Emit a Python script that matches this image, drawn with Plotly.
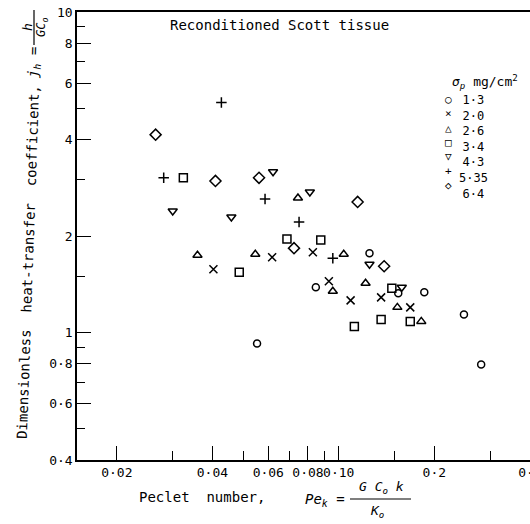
import plotly.graph_objects as go

# ---- data (Peclet number Pe_k, heat-transfer coefficient j_h) ----
series_labels = ["1·3", "2·0", "2·6", "3·4", "4·3", "5·35", "6·4"]

pe_13 = [0.0553, 0.0847, 0.125, 0.154, 0.186, 0.248, 0.281]
jh_13 = [0.924, 1.384, 1.769, 1.325, 1.335, 1.139, 0.794]

pe_20 = [0.0403, 0.0617, 0.0829, 0.0931, 0.109, 0.136, 0.168]
jh_20 = [1.576, 1.718, 1.781, 1.445, 1.260, 1.287, 1.198]

pe_26 = [0.0359, 0.0546, 0.0744, 0.1037, 0.0958, 0.1215, 0.153, 0.182]
jh_26 = [1.743, 1.756, 2.63, 1.756, 1.345, 1.424, 1.198, 1.083]

pe_34 = [0.0324, 0.0486, 0.0687, 0.0878, 0.112, 0.136, 0.147, 0.168]
jh_34 = [3.04, 1.542, 1.957, 1.943, 1.044, 1.098, 1.374, 1.083]

pe_43 = [0.0300, 0.0459, 0.0621, 0.0811, 0.125, 0.158]
jh_43 = [2.394, 2.294, 3.175, 2.747, 1.634, 1.384]

pe_535 = [0.0281, 0.0427, 0.0586, 0.0750, 0.0958]
jh_535 = [3.04, 5.22, 2.61, 2.212, 1.706]

pe_64 = [0.0265, 0.0409, 0.0561, 0.0723, 0.1147, 0.139]
jh_64 = [4.146, 2.973, 3.04, 1.834, 2.556, 1.61]

x_tickvals = [0.02, 0.04, 0.06, 0.08, 0.10, 0.2, 0.4]
x_ticktext = ["0·02", "0·04", "0·06", "0·08", "0·10", "0·2", "0·4"]
x_minor = [0.03, 0.05, 0.07, 0.09, 0.15, 0.3]

y_tickvals = [0.4, 0.6, 0.8, 1, 2, 4, 6, 8, 10]
y_ticktext = ["0·4", "0·6", "0·8", "1", "2", "4", "6", "8", "10"]
y_minor = [0.5, 0.7, 0.9, 1.5, 3, 5, 7, 9]

# ---- styling ----
symbols = ["circle-open", "x-thin-open", "triangle-up-open", "square-open",
           "triangle-down-open", "cross-thin-open", "diamond-open"]
sizes = [7, 8, 8, 8, 8, 7.5, 8.5]
legend_glyphs = ["○", "×", "△", "□", "▽", "+", "◇"]

FONT = "DejaVu Sans Mono"
W, H = 530, 524
L, R, T, B = 77, 0, 12, 64
PW, PH = W - L - R, H - T - B


def px(x):
    return (x - L) / PW


def py(y):
    return (H - B - y) / PH


xs = [pe_13, pe_20, pe_26, pe_34, pe_43, pe_535, pe_64]
ys = [jh_13, jh_20, jh_26, jh_34, jh_43, jh_535, jh_64]

fig = go.Figure()
for lab, xv, yv, sym, sz in zip(series_labels, xs, ys, symbols, sizes):
    fig.add_trace(go.Scatter(
        x=xv, y=yv, mode="markers", name=lab, showlegend=False,
        marker=dict(symbol=sym, size=sz, color="black",
                    line=dict(color="black", width=1.5)),
        cliponaxis=False,
    ))

axis_common = dict(
    type="log", showgrid=False, zeroline=False, automargin=False,
    showline=True, linecolor="black", linewidth=1.5, mirror=True,
    ticks="inside", ticklen=14, tickwidth=1.2, tickcolor="black",
    tickfont=dict(family=FONT, size=13, color="black"),
    tickmode="array", tickangle=0, ticklabeloverflow="allow",
)

fig.update_layout(
    width=W, height=H,
    margin=dict(l=L, r=R, t=T, b=B, autoexpand=False),
    paper_bgcolor="white", plot_bgcolor="white",
    font=dict(family=FONT, color="black"),
    xaxis=dict(axis_common, range=[-1.8244, -0.3975],
               tickvals=x_tickvals, ticktext=x_ticktext,
               minor=dict(tickmode="array", tickvals=x_minor, ticks="inside",
                          ticklen=9, tickwidth=1, tickcolor="black",
                          showgrid=False)),
    yaxis=dict(axis_common, range=[-0.398, 1.0005],
               tickvals=y_tickvals, ticktext=y_ticktext,
               minor=dict(tickmode="array", tickvals=y_minor, ticks="inside",
                          ticklen=8, tickwidth=1, tickcolor="black",
                          showgrid=False)),
)

ann = []


def add_text(x, y, text, size=14, xanchor="center", angle=0, yanchor="middle"):
    ann.append(dict(x=px(x), y=py(y), xref="paper", yref="paper", text=text,
                    showarrow=False, xanchor=xanchor, yanchor=yanchor,
                    textangle=angle,
                    font=dict(family=FONT, size=size, color="black")))


# title inside plot
add_text(279, 25, "Reconditioned Scott tissue", 14)

# legend (text-based, like the original)
add_text(485, 82, "<i>σ<sub>p</sub></i> mg/cm<sup>2</sup>", 13)
add_text(448, 91, "<br>".join(legend_glyphs), 11, yanchor="top")
add_text(457, 91, "<br>".join(series_labels), 12, xanchor="left", yanchor="top")

# y axis title (slightly tilted as in the scan)
add_text(28, 262, "Dimensionless  heat-transfer  coefficient,", 14, angle=-88)
add_text(34, 63, "<i>j<sub>h</sub></i> =", 14, angle=-88)
add_text(27, 27, "<i>h</i>", 13, angle=-90)
add_text(42, 27, "<i>GC<sub>o</sub></i>", 12, angle=-90)

# x axis title
add_text(202, 497, "Peclet  number,", 14)
add_text(325, 500, "<i>Pe<sub>k</sub></i> =", 14)
add_text(381, 487, "<i>G C<sub>o</sub> k</i>", 13)
add_text(377, 511, "<i>K<sub>o</sub></i>", 13)

fig.update_layout(annotations=ann)

shapes = [
    dict(type="line", xref="paper", yref="paper",
         x0=px(350), x1=px(411), y0=py(499), y1=py(499),
         line=dict(color="black", width=1.2)),
    dict(type="line", xref="paper", yref="paper",
         x0=px(34), x1=px(34), y0=py(10), y1=py(45),
         line=dict(color="black", width=1.2)),
]
fig.update_layout(shapes=shapes)

fig.write_html("out.html",
               config={"displayModeBar": False},
               post_script="document.body.style.margin='0';"
                           "document.body.style.padding='0';")
